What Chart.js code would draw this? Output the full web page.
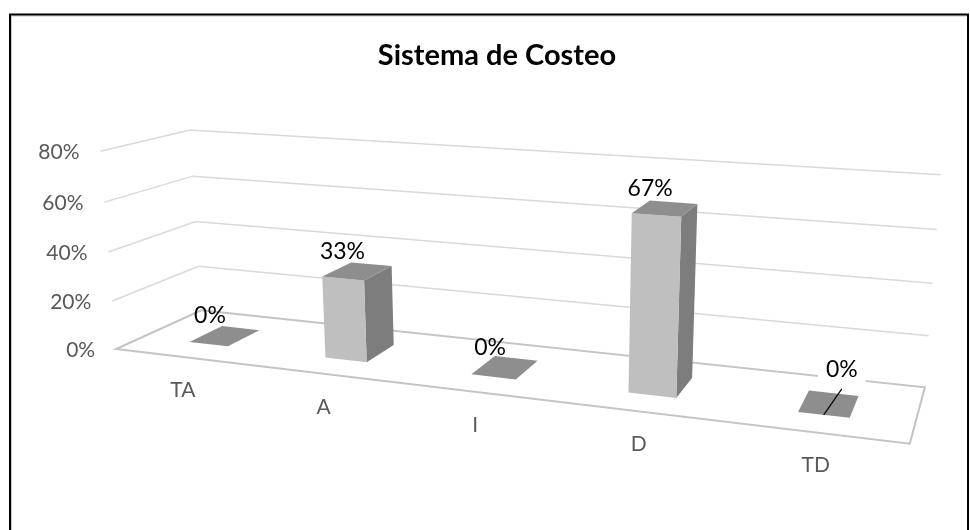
<!DOCTYPE html>
<html>
<head>
<meta charset="utf-8">
<script src="https://cdn.jsdelivr.net/npm/chart.js@4.4.1/dist/chart.umd.min.js"></script>
<style>
  html, body { margin: 0; padding: 0; background: #fff; }
  #wrap { position: relative; width: 970px; height: 530px; }
</style>
</head>
<body>
<div id="wrap"><canvas id="chart"></canvas></div>
<script>
const categories = ["TA", "A", "I", "D", "TD"];
const shares = [0, 0.33, 0, 0.67, 0];
const tickValues = [0, 0.2, 0.4, 0.6, 0.8];

// camera: box corners (u along categories, h = value / max, d = depth, 0 = front) -> canvas px
const cameraPairs = [
    [[0, 0, 0], [117, 348]],
    [[1, 0, 0], [910, 444]],
    [[1, 0, 1], [925, 387]],
    [[0, 0, 1], [200, 312]],
    [[0, 1, 1], [190, 130]],
    [[1, 1, 1], [941, 175]],
    [[0, 1, 0], [100, 152]],
    [[0, 0.5, 1], [197, 220]],
    [[1, 0.5, 1], [932, 283]],
    [[0, 0.5, 0], [108, 252]]
];
const barDepth = [0.3, 0.7];
const movedLabel = { index: 4, dx: 28, dy: -14 };

const FONT = "Lato, 'Noto Sans', sans-serif";
const AXIS_GREY = "#595959";

function fitCamera(pairs) {
    const n = 11;
    const M = Array.from({ length: n }, () => new Array(n + 1).fill(0));
    const addRow = (row, rhs) => {
        for (let i = 0; i < n; i++) {
            for (let j = 0; j < n; j++) M[i][j] += row[i] * row[j];
            M[i][n] += row[i] * rhs;
        }
    };
    pairs.forEach(([[X, Y, Z], [x, y]]) => {
        addRow([X, Y, Z, 1, 0, 0, 0, 0, -x * X, -x * Y, -x * Z], x);
        addRow([0, 0, 0, 0, X, Y, Z, 1, -y * X, -y * Y, -y * Z], y);
    });
    for (let c = 0; c < n; c++) {
        let p = c;
        for (let r = c + 1; r < n; r++) if (Math.abs(M[r][c]) > Math.abs(M[p][c])) p = r;
        [M[c], M[p]] = [M[p], M[c]];
        for (let r = 0; r < n; r++) {
            if (r === c) continue;
            const f = M[r][c] / M[c][c];
            for (let k = c; k <= n; k++) M[r][k] -= f * M[c][k];
        }
    }
    return M.map((row, i) => row[n] / row[i]);
}

const P = fitCamera(cameraPairs);

function project(u, h, d) {
    const w = P[8] * u + P[9] * h + P[10] * d + 1;
    return [(P[0] * u + P[1] * h + P[2] * d + P[3]) / w, (P[4] * u + P[5] * h + P[6] * d + P[7]) / w];
}

function line(ctx, a, b, color, width) {
    ctx.beginPath();
    ctx.moveTo(a[0], a[1]);
    ctx.lineTo(b[0], b[1]);
    ctx.strokeStyle = color;
    ctx.lineWidth = width;
    ctx.stroke();
}

function poly(ctx, pts, fill) {
    ctx.beginPath();
    pts.forEach((p, i) => (i ? ctx.lineTo(p[0], p[1]) : ctx.moveTo(p[0], p[1])));
    ctx.closePath();
    ctx.fillStyle = fill;
    ctx.fill();
}

const frame = {
    id: "frame",
    beforeDraw(chart) {
        const ctx = chart.ctx;
        ctx.save();
        ctx.fillStyle = "#fff";
        ctx.fillRect(0, 0, chart.width, chart.height);
        ctx.strokeStyle = "#c8c8c8";
        ctx.lineWidth = 1;
        ctx.strokeRect(11.5, 16, 956, 600);
        ctx.strokeStyle = "#000";
        ctx.lineWidth = 2;
        ctx.strokeRect(10, 14.5, 958, 600);
        ctx.restore();
    }
};

const box3d = {
    id: "box3d",
    afterDatasetsDraw(chart) {
        const ctx = chart.ctx;
        const area = chart.chartArea;
        const ys = chart.scales.y;
        const U = px => (px - area.left) / (area.right - area.left);
        const H = py => (ys.bottom - py) / (ys.bottom - ys.top);
        ctx.save();

        // walls: back gridlines and left side lines
        ys.ticks.forEach(t => {
            const h = H(ys.getPixelForValue(t.value));
            if (t.value === 0) return;
            line(ctx, project(0, h, 1), project(1, h, 1), "#d9d9d9", 1.5);
            line(ctx, project(0, h, 0), project(0, h, 1), "#d9d9d9", 1.5);
        });
        // floor
        const floor = [project(0, 0, 0), project(1, 0, 0), project(1, 0, 1), project(0, 0, 1)];
        ctx.beginPath();
        floor.forEach((p, i) => (i ? ctx.lineTo(p[0], p[1]) : ctx.moveTo(p[0], p[1])));
        ctx.closePath();
        ctx.strokeStyle = "#c4c4c4";
        ctx.lineWidth = 2;
        ctx.stroke();

        // axis tick labels on the front edge of the left wall
        ctx.font = `21px ${FONT}`;
        ctx.fillStyle = AXIS_GREY;
        ctx.textAlign = "right";
        ctx.textBaseline = "middle";
        ys.ticks.forEach(t => {
            const h = H(ys.getPixelForValue(t.value));
            const p = project(0, h, 0);
            ctx.fillText(Math.round(t.value * 100) + "%", p[0] - 21, p[1] + 1);
        });

        // bars
        const meta = chart.getDatasetMeta(0);
        const [d0, d1] = barDepth;
        meta.data.forEach(bar => {
            const u0 = U(bar.x - bar.width / 2);
            const u1 = U(bar.x + bar.width / 2);
            const h = H(bar.y);
            poly(ctx, [project(u1, 0, d0), project(u1, 0, d1), project(u1, h, d1), project(u1, h, d0)], "#7d7d7d");
            poly(ctx, [project(u0, 0, d0), project(u1, 0, d0), project(u1, h, d0), project(u0, h, d0)], "#bfbfbf");
            poly(ctx, [project(u0, h, d0), project(u1, h, d0), project(u1, h, d1), project(u0, h, d1)], "#8e8e8e");
        });

        // category labels below the front edge
        ctx.textAlign = "center";
        ctx.fillStyle = AXIS_GREY;
        categories.forEach((c, i) => {
            const p = project(U(chart.scales.x.getPixelForValue(i)), 0, 0);
            ctx.fillText(c, p[0], p[1] + 33);
        });

        // value labels
        ctx.font = `23px ${FONT}`;
        meta.data.forEach((bar, i) => {
            const uc = U(bar.x);
            const h = H(bar.y);
            const top = project(uc, h, (d0 + d1) / 2);
            let x = top[0] - 15, y = top[1] - 20;
            const text = Math.round(shares[i] * 100) + "%";
            if (i === movedLabel.index) {
                x += movedLabel.dx;
                y += movedLabel.dy;
                const w = ctx.measureText(text).width;
                ctx.fillStyle = "#fff";
                ctx.fillRect(x - w / 2 - 8, y - 13, w + 16, 25);
                const end = project(uc, h, d0);
                line(ctx, [x, y + 19], end, "#000", 1.2);
            }
            ctx.fillStyle = "#000";
            ctx.fillText(text, x, y);
        });
        ctx.restore();
    }
};

new Chart(document.getElementById("chart"), {
    type: "bar",
    data: {
        labels: categories,
        datasets: [{
            data: shares,
            backgroundColor: "rgba(0,0,0,0)",
            barPercentage: 0.29,
            categoryPercentage: 1
        }]
    },
    options: {
        responsive: true,
        maintainAspectRatio: false,
        animation: false,
        layout: { padding: { left: 24 } },
        scales: {
            x: { display: false },
            y: {
                display: false,
                min: 0,
                max: 0.8,
                afterBuildTicks: scale => { scale.ticks = tickValues.map(v => ({ value: v })); }
            }
        },
        plugins: {
            legend: { display: false },
            tooltip: { enabled: false },
            title: {
                display: true,
                text: "Sistema de Costeo",
                color: "#000",
                font: { family: FONT, size: 29, weight: "bold" },
                padding: { top: 38, bottom: 20 }
            }
        }
    },
    plugins: [frame, box3d]
});
</script>
</body>
</html>
